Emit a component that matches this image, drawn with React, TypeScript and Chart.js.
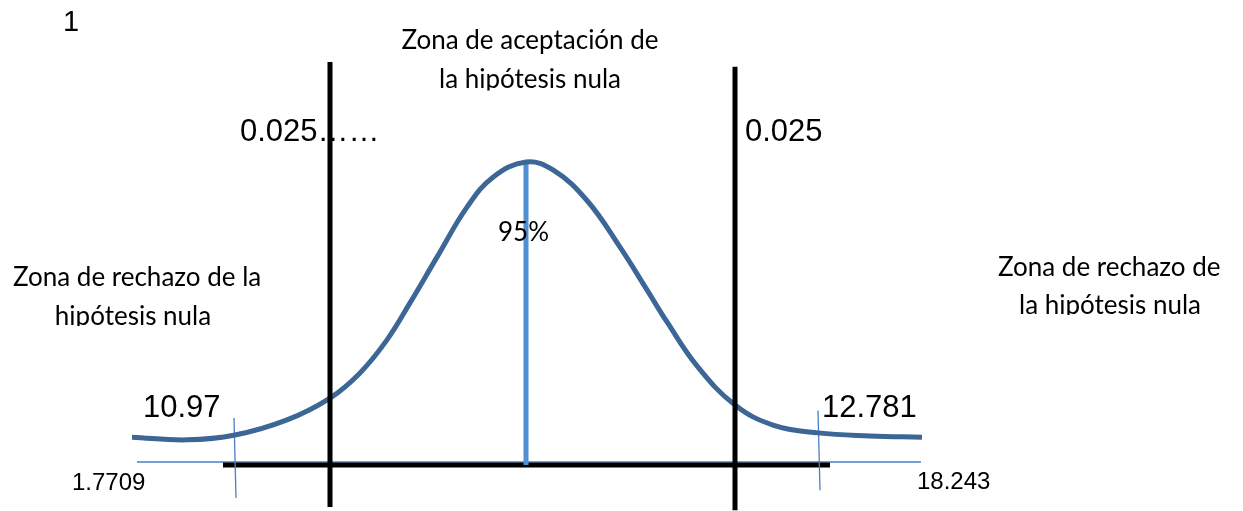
import { useEffect, useRef } from "react";
import { Chart, registerables } from "chart.js";

Chart.register(...registerables);

// Standardised position (z) and relative density (peak = 1) of the drawn curve
const curveZ = [-1.97, -1.695, -1.455, -1.195, -0.98, -0.83, -0.695, -0.58, -0.445, -0.295, -0.165, 0, 0.135, 0.305, 0.47, 0.605, 0.705, 0.855, 1.045, 1.235, 1.46, 1.72, 1.98];
const curveD = [0.092, 0.083, 0.099, 0.149, 0.221, 0.304, 0.413, 0.535, 0.686, 0.851, 0.95, 1.0, 0.974, 0.873, 0.719, 0.578, 0.472, 0.327, 0.198, 0.132, 0.106, 0.096, 0.092];

// Critical (black) lines, centre line, tick marks and the axis
const criticalZ = [-0.98, 1.045];
const criticalTop = [1.33, 1.314];
const criticalBottom = [-0.139, -0.149];
const centerZ = 0;
const centerTop = 1.0;
const axisZ = [-1.515, 1.52];
const thinAxisZ = [-1.945, 1.975];
const tickTopZ = [-1.46, 1.46];
const tickBottomZ = [-1.45, 1.47];
const tickTop = [0.155, 0.18];
const tickBottom = [-0.109, -0.083];

// Labels
const alphaLabels = ["0.025……", "0.025"];
const criticalLabels = ["10.97", "12.781"];
const endLabels = ["1.7709", "18.243"];
const acceptLabel = ["Zona de aceptación de", "la hipótesis nula"];
const rejectLeft = ["Zona de rechazo de la", "hipótesis nula"];
const rejectRight = ["Zona de rechazo de", "la hipótesis nula"];
const centerLabel = "95%";
const cornerLabel = "1";

const ARIAL = "'Liberation Sans', Arial, sans-serif";
const CALIBRI = "Lato, 'Open Sans', sans-serif";

type Txt = {
  t: string; z: number; d: number; font: string; align: CanvasTextAlign;
  maxW?: number; clipD?: number;
};

const texts: Txt[] = [
  { t: cornerLabel, z: -2.315, d: 1.432, font: `29px ${ARIAL}`, align: "left" },
  { t: acceptLabel[0], z: 0.02, d: 1.373, font: `26px ${CALIBRI}`, align: "center", maxW: 266 },
  { t: acceptLabel[1], z: 0.02, d: 1.244, font: `26px ${CALIBRI}`, align: "center", maxW: 190, clipD: 1.236 },
  { t: alphaLabels[0], z: -1.43, d: 1.069, font: `31px ${ARIAL}`, align: "left" },
  { t: alphaLabels[1], z: 1.095, d: 1.069, font: `31px ${ARIAL}`, align: "left" },
  { t: centerLabel, z: -0.14, d: 0.739, font: `27px ${CALIBRI}`, align: "left", maxW: 51 },
  { t: rejectLeft[0], z: -2.565, d: 0.591, font: `26px ${CALIBRI}`, align: "left", maxW: 257 },
  { t: rejectLeft[1], z: -1.965, d: 0.462, font: `26px ${CALIBRI}`, align: "center", maxW: 177, clipD: 0.459 },
  { t: rejectRight[0], z: 2.36, d: 0.624, font: `26px ${CALIBRI}`, align: "left", maxW: 229 },
  { t: rejectRight[1], z: 2.92, d: 0.498, font: `26px ${CALIBRI}`, align: "center", maxW: 195, clipD: 0.495 },
  { t: criticalLabels[0], z: -1.915, d: 0.158, font: `31px ${ARIAL}`, align: "left" },
  { t: criticalLabels[1], z: 1.48, d: 0.158, font: `31px ${ARIAL}`, align: "left" },
  { t: endLabels[0], z: -2.27, d: -0.083, font: `24px ${ARIAL}`, align: "left" },
  { t: endLabels[1], z: 1.955, d: -0.08, font: `24px ${ARIAL}`, align: "left" },
];

const textPlugin = {
  id: "diagramText",
  afterDatasetsDraw(chart: any) {
    const { ctx, scales } = chart;
    const xs = scales.x, ys = scales.y;
    ctx.save();
    ctx.fillStyle = "#000";
    ctx.textBaseline = "alphabetic";
    for (const tx of texts) {
      ctx.save();
      if (tx.clipD !== undefined) {
        const yc = ys.getPixelForValue(tx.clipD);
        ctx.beginPath();
        ctx.rect(0, 0, chart.width, yc);
        ctx.clip();
      }
      ctx.font = tx.font;
      ctx.textAlign = tx.align;
      const px = xs.getPixelForValue(tx.z);
      const py = ys.getPixelForValue(tx.d);
      if (tx.maxW) ctx.fillText(tx.t, px, py, tx.maxW);
      else ctx.fillText(tx.t, px, py);
      ctx.restore();
    }
    ctx.restore();
  },
};

function seg(x1: number, y1: number, x2: number, y2: number, color: string, width: number, order = 0) {
  return {
    data: [{ x: x1, y: y1 }, { x: x2, y: y2 }],
    showLine: true,
    borderColor: color,
    borderWidth: width,
    pointRadius: 0,
    borderCapStyle: "butt" as const,
    order,
  };
}

export default function App() {
  const ref = useRef<HTMLCanvasElement | null>(null);
  useEffect(() => {
    if (!ref.current) return;
    const thinBlue = "#4a7fc4";
    const datasets: any[] = [
      seg(thinAxisZ[0], 0.01, thinAxisZ[1], 0.01, thinBlue, 1.3, 6),
      seg(axisZ[0], 0, axisZ[1], 0, "#000", 5, 5),
      seg(tickTopZ[0], tickTop[0], tickBottomZ[0], tickBottom[0], thinBlue, 1.3, 4),
      seg(tickTopZ[1], tickTop[1], tickBottomZ[1], tickBottom[1], thinBlue, 1.3, 4),
      seg(centerZ, 0, centerZ, centerTop, "#4f90d5", 5, 3),
      {
        data: curveZ.map((z, i) => ({ x: z, y: curveD[i] })),
        showLine: true,
        borderColor: "#3c6696",
        borderWidth: 5,
        pointRadius: 0,
        tension: 0.4,
        borderJoinStyle: "round",
        order: 2,
      },
      seg(criticalZ[0], criticalTop[0], criticalZ[0], criticalBottom[0], "#000", 5, 1),
      seg(criticalZ[1], criticalTop[1], criticalZ[1], criticalBottom[1], "#000", 5, 1),
    ];
    const chart = new Chart(ref.current, {
      type: "scatter",
      data: { datasets },
      options: {
        animation: false,
        responsive: false,
        maintainAspectRatio: false,
        layout: { padding: 0 },
        plugins: { legend: { display: false }, tooltip: { enabled: false } },
        scales: {
          x: { type: "linear", display: false, min: -2.63, max: 3.585 },
          y: { type: "linear", display: false, min: -0.1518, max: 1.5347 },
        },
      },
      plugins: [textPlugin],
    });
    return () => chart.destroy();
  }, []);
  return (
    <div style={{ position: "fixed", left: 0, top: 0, width: 1243, height: 511, background: "#fff" }}>
      <canvas ref={ref} width={1243} height={511} style={{ display: "block" }} />
    </div>
  );
}
